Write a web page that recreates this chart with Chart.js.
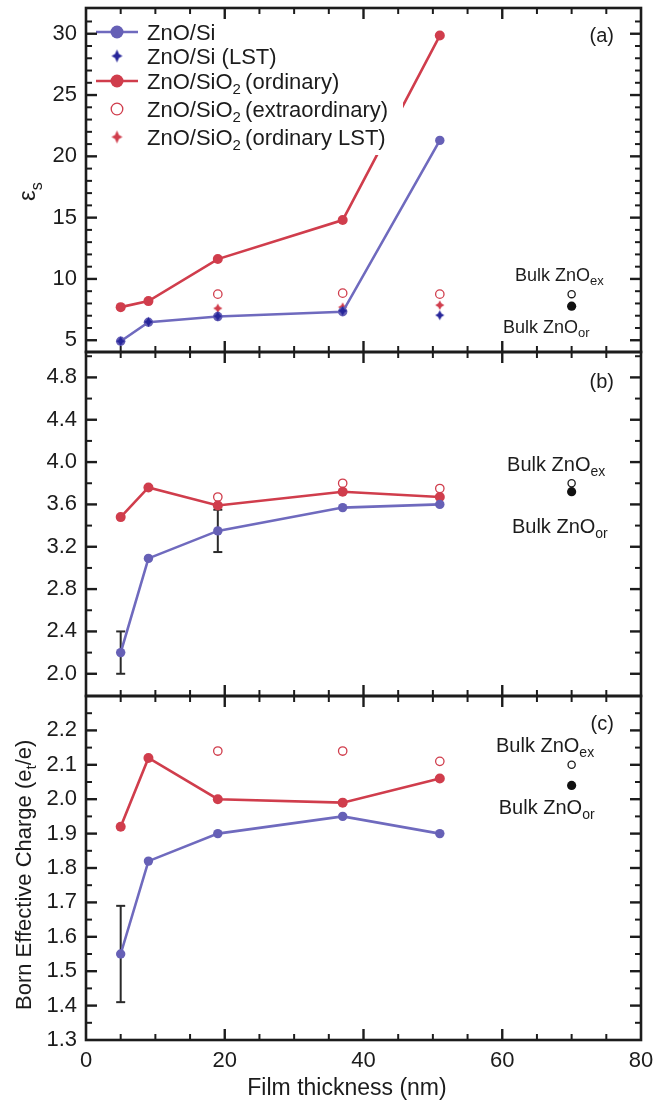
<!DOCTYPE html>
<html><head><meta charset="utf-8">
<script src="https://cdn.jsdelivr.net/npm/chart.js@4.4.1/dist/chart.umd.min.js"></script>
<style>
html,body{margin:0;padding:0;background:#fff;}
body{width:665px;height:1102px;position:relative;overflow:hidden;}
canvas{position:absolute;left:0;}
</style></head>
<body>
<canvas id="ca" width="665" height="362" style="top:0px"></canvas>
<canvas id="cb" width="665" height="362" style="top:344px"></canvas>
<canvas id="cc" width="665" height="414" style="top:688px"></canvas>
<script>
// ---------------- data ----------------
const thickness = [5, 9, 19, 37, 51];
const bulkThickness = [70];

// (a) static dielectric constant
const epsS_ZnOSi      = [4.92, 6.47, 6.93, 7.32, 21.3];
const epsS_ZnOSi_LST  = [4.92, 6.50, 6.96, 7.40, 7.04];
const epsS_SiO2_ord   = [7.70, 8.19, 11.62, 14.80, 29.85];
const epsS_SiO2_ext   = [null, null, 8.76, 8.84, 8.76];
const epsS_SiO2_ordLST= [null, null, 7.60, 7.70, 7.86];
const epsS_bulkEx = [8.76];
const epsS_bulkOr = [7.78];

// (b) high-frequency dielectric constant
const epsInf_ZnOSi     = [2.20, 3.09, 3.35, 3.57, 3.60];
const epsInf_ZnOSi_err = [0.20, null, 0.20, null, null];
const epsInf_SiO2_ord  = [3.48, 3.76, 3.59, 3.72, 3.67];
const epsInf_SiO2_ext  = [null, null, 3.67, 3.80, 3.75];
const epsInf_bulkEx = [3.80];
const epsInf_bulkOr = [3.72];

// (c) Born effective charge
const bec_ZnOSi     = [1.55, 1.82, 1.90, 1.95, 1.90];
const bec_ZnOSi_err = [0.14, null, null, null, null];
const bec_SiO2_ord  = [1.92, 2.12, 2.00, 1.99, 2.06];
const bec_SiO2_ext  = [null, null, 2.14, 2.14, 2.11];
const bec_bulkEx = [2.10];
const bec_bulkOr = [2.04];

// tick labels
const xTickLabels = [0, 20, 40, 60, 80];
const yTicksA = [5, 10, 15, 20, 25, 30];
const yTicksB = [2.0, 2.4, 2.8, 3.2, 3.6, 4.0, 4.4, 4.8];
const yTicksC = [1.3, 1.4, 1.5, 1.6, 1.7, 1.8, 1.9, 2.0, 2.1, 2.2];

// ---------------- styles ----------------
const FONT = '"Liberation Sans", Arial, Helvetica, sans-serif';
const INK = '#1c1c1c';
const BLUE_LINE = '#6f6abe';
const BLUE_PT = '#6660b6';
const NAVY = '#27269a';
const RED = '#d03d4c';

function makeStar(color, rx, ry, ri) {
  const c = document.createElement('canvas');
  const w = Math.ceil(rx * 2 + 2), h = Math.ceil(ry * 2 + 2);
  c.width = w; c.height = h;
  const g = c.getContext('2d');
  g.translate(w / 2, h / 2);
  g.beginPath();
  g.moveTo(0, -ry); g.lineTo(ri, -ri); g.lineTo(rx, 0); g.lineTo(ri, ri);
  g.lineTo(0, ry); g.lineTo(-ri, ri); g.lineTo(-rx, 0); g.lineTo(-ri, -ri);
  g.closePath();
  g.fillStyle = color; g.fill();
  return c;
}
const starNavy = makeStar(NAVY, 4.5, 5, 1.7);
const starRed = makeStar(RED, 4.6, 4.8, 1.7);
const starNavyL = makeStar(NAVY, 5.5, 6.5, 2);
const starRedL = makeStar(RED, 5.5, 6.5, 2);

function pts(xs, ys, errs) {
  const out = [];
  xs.forEach((x, i) => {
    if (ys[i] == null) return;
    const p = {x: x, y: ys[i]};
    if (errs && errs[i] != null) p.err = errs[i];
    out.push(p);
  });
  return out;
}

function richWidth(ctx, parts) {
  let w = 0;
  parts.forEach(p => { ctx.font = p.size + 'px ' + FONT; w += ctx.measureText(p.t).width; });
  return w;
}
function richText(ctx, x, y, parts, align) {
  const w = richWidth(ctx, parts);
  let cx = align === 'right' ? x - w : (align === 'center' ? x - w / 2 : x);
  ctx.textAlign = 'left';
  ctx.textBaseline = 'alphabetic';
  parts.forEach(p => {
    ctx.font = p.size + 'px ' + FONT;
    ctx.fillText(p.t, cx, y + (p.dy || 0));
    cx += ctx.measureText(p.t).width;
  });
}

function seg(ctx, x1, y1, x2, y2) { ctx.beginPath(); ctx.moveTo(x1, y1); ctx.lineTo(x2, y2); ctx.stroke(); }
function isMul(v, step) { const r = v / step; return Math.abs(r - Math.round(r)) < 1e-6; }

const panelDecor = {
  id: 'panelDecor',
  beforeDatasetsDraw(chart) {
    const {ctx, scales: {x, y}} = chart;
    ctx.save();
    ctx.strokeStyle = '#2a2a2a'; ctx.lineWidth = 2;
    chart.data.datasets.forEach(ds => {
      if (!ds.errorBars) return;
      ds.data.forEach(p => {
        if (p.err == null) return;
        const px = x.getPixelForValue(p.x);
        const y1 = y.getPixelForValue(p.y - p.err), y2 = y.getPixelForValue(p.y + p.err);
        seg(ctx, px, y1, px, y2);
        seg(ctx, px - 4.5, y1, px + 4.5, y1);
        seg(ctx, px - 4.5, y2, px + 4.5, y2);
      });
    });
    ctx.restore();
  },
  afterDatasetsDraw(chart, args, o) {
    if (!o.legend) return;
    const {ctx} = chart;
    const L = o.legend;
    ctx.save();
    ctx.fillStyle = '#fff';
    ctx.fillRect(L.box[0], L.box[1], L.box[2], L.box[3]);
    L.items.forEach((it, i) => {
      const ry = L.rows[i];
      if (it.line) {
        ctx.strokeStyle = it.line; ctx.lineWidth = 2.4;
        seg(ctx, L.lineX[0], ry, L.lineX[1], ry);
      }
      if (it.marker === 'dot') {
        ctx.fillStyle = it.color; ctx.beginPath(); ctx.arc(L.markX, ry, 6.5, 0, Math.PI * 2); ctx.fill();
      } else if (it.marker === 'ring') {
        ctx.strokeStyle = it.color; ctx.lineWidth = 1.3; ctx.beginPath(); ctx.arc(L.markX, ry, 5.8, 0, Math.PI * 2); ctx.stroke();
      } else if (it.marker === 'img') {
        ctx.drawImage(it.img, L.markX - it.img.width / 2, ry - it.img.height / 2);
      }
      ctx.fillStyle = INK;
      richText(ctx, L.textX, ry + 8, it.parts, 'left');
    });
    ctx.restore();
  },
  afterDraw(chart, args, o) {
    const {ctx, chartArea: a, scales: {x, y}} = chart;
    ctx.save();
    ctx.strokeStyle = INK;
    // inward ticks on x (top and bottom)
    for (let v = x.min; v <= x.max + 1e-9; v += o.xMinor) {
      const px = x.getPixelForValue(v);
      if (px < a.left + 2 || px > a.right - 2) continue;
      const major = isMul(v, o.xMajor);
      const len = major ? 11 : 6;
      ctx.lineWidth = major ? 2.4 : 2;
      seg(ctx, px, a.bottom, px, a.bottom - len);
      seg(ctx, px, a.top, px, a.top + len);
    }
    // inward ticks on y (left and right)
    const start = Math.ceil(y.min / o.yMinor - 1e-9) * o.yMinor;
    for (let k = 0; ; k++) {
      const v = start + k * o.yMinor;
      if (v > y.max + 1e-9) break;
      const py = y.getPixelForValue(v);
      if (py < a.top + 2 || py > a.bottom - 2) continue;
      const major = isMul(v, o.yMajor);
      const len = major ? 11 : 6;
      ctx.lineWidth = major ? 2.4 : 2;
      seg(ctx, a.left, py, a.left + len, py);
      seg(ctx, a.right, py, a.right - len, py);
    }
    // frame
    ctx.lineWidth = 2.6;
    ctx.strokeRect(a.left, a.top, a.right - a.left, a.bottom - a.top);
    // annotations
    ctx.fillStyle = INK;
    (o.notes || []).forEach(n => {
      richText(ctx, x.getPixelForValue(n.x), y.getPixelForValue(n.y), n.parts, n.align || 'left');
    });
    // y title (rotated)
    if (o.yTitle) {
      ctx.save();
      ctx.translate(o.yTitle.x, o.yTitle.y);
      ctx.rotate(-Math.PI / 2);
      richText(ctx, 0, 0, o.yTitle.parts, 'left');
      ctx.restore();
    }
    if (o.xTitle) {
      richText(ctx, o.xTitle.x, o.xTitle.y, o.xTitle.parts, 'center');
    }
    ctx.restore();
  }
};
Chart.register(panelDecor);

function yScale(min, max, ticks, fmt) {
  return {
    type: 'linear', min: min, max: max,
    afterBuildTicks: s => { s.ticks = ticks.map(v => ({value: v})); },
    afterFit: s => { s.width = 86; s.paddingTop = 0; s.paddingBottom = 0; },
    ticks: {font: {family: FONT, size: 22}, color: INK, padding: 9, callback: fmt},
    grid: {display: false, drawTicks: false},
    border: {display: false}
  };
}
function xHidden() { return {type: 'linear', min: 0, max: 80, display: false}; }

function lineDs(label, data, lineColor, ptColor, r, order, extra) {
  return Object.assign({label, data, showLine: true, borderColor: lineColor, borderWidth: 2.6,
    pointRadius: r, pointBackgroundColor: ptColor, pointBorderWidth: 0, pointStyle: 'circle', order}, extra || {});
}
function starDs(label, data, img, order) {
  return {label, data, showLine: false, pointStyle: img, pointRadius: 4, order};
}
function ringDs(label, data, color, r, order, fill) {
  return {label, data, showLine: false, pointStyle: 'circle', pointRadius: r, pointBorderColor: color,
    pointBorderWidth: 1.3, pointBackgroundColor: fill || 'rgba(255,255,255,0)', order};
}
function dotDs(label, data, color, r, order) {
  return {label, data, showLine: false, pointStyle: 'circle', pointRadius: r, pointBackgroundColor: color,
    pointBorderWidth: 0, order};
}

function baseOptions(pad, scales, decor) {
  return {
    responsive: false, animation: false, events: [],
    layout: {padding: pad},
    scales: scales,
    plugins: {legend: {display: false}, tooltip: {enabled: false}, panelDecor: decor}
  };
}

const bulkLabel = (sz, sub, subSz, dy) => [{t: 'Bulk ZnO', size: sz}, {t: sub, size: subSz, dy: dy}];

// ---------------- panel (a) ----------------
new Chart(document.getElementById('ca'), {
  type: 'scatter',
  data: {datasets: [
    starDs('ZnO/Si (LST)', pts(thickness, epsS_ZnOSi_LST), starNavy, 1),
    ringDs('Bulk ZnO ex', pts(bulkThickness, epsS_bulkEx), INK, 3.6, 2, '#fff'),
    dotDs('Bulk ZnO or', pts(bulkThickness, epsS_bulkOr), '#111', 4.6, 3),
    ringDs('ZnO/SiO2 (extraordinary)', pts(thickness, epsS_SiO2_ext), RED, 4.2, 4),
    lineDs('ZnO/Si', pts(thickness, epsS_ZnOSi), BLUE_LINE, BLUE_PT, 4.7, 5),
    starDs('ZnO/SiO2 (ordinary LST)', pts(thickness, epsS_SiO2_ordLST), starRed, 6),
    lineDs('ZnO/SiO2 (ordinary)', pts(thickness, epsS_SiO2_ord), RED, RED, 5, 7)
  ]},
  options: baseOptions({left: 0, right: 24, top: 8, bottom: 10},
    {x: xHidden(), y: yScale(4.04, 32.1, yTicksA, v => String(v))},
    {
      xMinor: 5, xMajor: 20, yMinor: 1, yMajor: 5,
      legend: {
        box: [93, 15, 310, 140],
        rows: [32, 56, 81, 109, 137],
        lineX: [96, 138], markX: 117, textX: 147,
        items: [
          {line: BLUE_LINE, marker: 'dot', color: BLUE_PT, parts: [{t: 'ZnO/Si', size: 22}]},
          {marker: 'img', img: starNavyL, parts: [{t: 'ZnO/Si (LST)', size: 22}]},
          {line: RED, marker: 'dot', color: RED, parts: [{t: 'ZnO/SiO', size: 22}, {t: '2 ', size: 15, dy: 5}, {t: '(ordinary)', size: 22}]},
          {marker: 'ring', color: RED, parts: [{t: 'ZnO/SiO', size: 22}, {t: '2 ', size: 15, dy: 5}, {t: '(extraordinary)', size: 22}]},
          {marker: 'img', img: starRedL, parts: [{t: 'ZnO/SiO', size: 22}, {t: '2 ', size: 15, dy: 5}, {t: '(ordinary LST)', size: 22}]}
        ]
      },
      notes: [
        {x: 61.84, y: 9.82, parts: bulkLabel(18, 'ex', 13, 4)},
        {x: 60.1, y: 5.57, parts: bulkLabel(18, 'or', 13, 4)},
        {x: 76.1, y: 29.35, parts: [{t: '(a)', size: 20}], align: 'right'}
      ],
      yTitle: {x: 34.5, y: 201, parts: [{t: 'ε', size: 24}, {t: 's', size: 16, dy: 7.5}]}
    })
});

// ---------------- panel (b) ----------------
new Chart(document.getElementById('cb'), {
  type: 'scatter',
  data: {datasets: [
    ringDs('Bulk ZnO ex', pts(bulkThickness, epsInf_bulkEx), INK, 3.6, 1, '#fff'),
    dotDs('Bulk ZnO or', pts(bulkThickness, epsInf_bulkOr), '#111', 4.6, 2),
    ringDs('ZnO/SiO2 (extraordinary)', pts(thickness, epsInf_SiO2_ext), RED, 4.2, 3),
    lineDs('ZnO/Si', pts(thickness, epsInf_ZnOSi, epsInf_ZnOSi_err), BLUE_LINE, BLUE_PT, 4.7, 4, {errorBars: true}),
    lineDs('ZnO/SiO2 (ordinary)', pts(thickness, epsInf_SiO2_ord), RED, RED, 5, 5)
  ]},
  options: baseOptions({left: 0, right: 24, top: 8, bottom: 10},
    {x: xHidden(), y: yScale(1.79, 5.04, yTicksB, v => Number(v).toFixed(1))},
    {
      xMinor: 5, xMajor: 20, yMinor: 0.2, yMajor: 0.4,
      notes: [
        {x: 60.7, y: 3.92, parts: bulkLabel(20, 'ex', 14, 5)},
        {x: 61.4, y: 3.33, parts: bulkLabel(20, 'or', 14, 5)},
        {x: 76.1, y: 4.70, parts: [{t: '(b)', size: 20}], align: 'right'}
      ],
      yTitle: {x: 28.5, y: 535, parts: [{t: 'ε', size: 24}, {t: '∞', size: 15, dy: 7}]}
    })
});

// ---------------- panel (c) ----------------
new Chart(document.getElementById('cc'), {
  type: 'scatter',
  data: {datasets: [
    ringDs('Bulk ZnO ex', pts(bulkThickness, bec_bulkEx), INK, 3.6, 1, '#fff'),
    dotDs('Bulk ZnO or', pts(bulkThickness, bec_bulkOr), '#111', 4.6, 2),
    ringDs('ZnO/SiO2 (extraordinary)', pts(thickness, bec_SiO2_ext), RED, 4.2, 3),
    lineDs('ZnO/Si', pts(thickness, bec_ZnOSi, bec_ZnOSi_err), BLUE_LINE, BLUE_PT, 4.7, 4, {errorBars: true}),
    lineDs('ZnO/SiO2 (ordinary)', pts(thickness, bec_SiO2_ord), RED, RED, 5, 5)
  ]},
  options: baseOptions({left: 0, right: 24, top: 8, bottom: 0},
    {
      x: {
        type: 'linear', min: 0, max: 80,
        afterBuildTicks: s => { s.ticks = xTickLabels.map(v => ({value: v})); },
        afterFit: s => { s.height = 62; s.paddingLeft = 0; s.paddingRight = 0; },
        ticks: {font: {family: FONT, size: 22}, color: INK, padding: 8, maxRotation: 0, autoSkip: false},
        grid: {display: false, drawTicks: false},
        border: {display: false}
      },
      y: yScale(1.3, 2.30, yTicksC, v => Number(v).toFixed(1))
    },
    {
      xMinor: 5, xMajor: 20, yMinor: 0.05, yMajor: 0.1,
      notes: [
        {x: 59.1, y: 2.138, parts: bulkLabel(20, 'ex', 14, 5)},
        {x: 59.5, y: 1.958, parts: bulkLabel(20, 'or', 14, 5)},
        {x: 76.1, y: 2.202, parts: [{t: '(c)', size: 20}], align: 'right'}
      ],
      yTitle: {x: 31, y: 322, parts: [{t: 'Born Effective Charge (e', size: 22}, {t: 't', size: 15, dy: 5}, {t: '/e)', size: 22}]},
      xTitle: {x: 347, y: 407, parts: [{t: 'Film thickness (nm)', size: 23}]}
    })
});
</script>
</body></html>
